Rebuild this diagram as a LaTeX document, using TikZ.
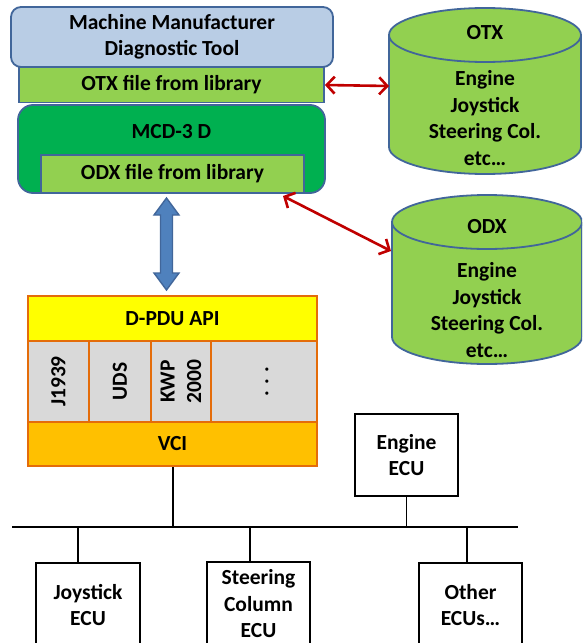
\documentclass[tikz,border=0pt]{standalone}
\usepackage{fontspec}
\setmainfont{Carlito}[BoldFont={Carlito Bold}]
\usetikzlibrary{arrows.meta}

\definecolor{toolblue}{HTML}{B9CDE5}
\definecolor{edgeblue}{HTML}{41669A}
\definecolor{libgreen}{HTML}{92D050}
\definecolor{mcdgreen}{HTML}{00B050}
\definecolor{pipeblue}{HTML}{4F81BD}
\definecolor{linkred}{HTML}{C00000}
\definecolor{pduorange}{HTML}{E46C0A}
\definecolor{pduyellow}{HTML}{FFFF00}
\definecolor{protogray}{HTML}{D9D9D9}
\definecolor{vciamber}{HTML}{FFC000}

\tikzset{
  txt/.style={font=\bfseries\fontsize{21.5}{26.5}\selectfont, align=center, inner sep=0pt},
  box/.style={txt, minimum width=#1, draw, inner sep=0pt},
  toolbox/.style={draw=edgeblue, line width=1.8pt, fill=toolblue, rounded corners=10pt},
  libbox/.style={draw=edgeblue, line width=1.8pt, fill=libgreen},
  mcdbox/.style={draw=edgeblue, line width=1.8pt, fill=mcdgreen, rounded corners=15pt},
  pducell/.style={draw=pduorange, line width=2pt},
  ecubox/.style={draw=black, line width=2pt, fill=white},
  buswire/.style={draw=black, line width=2pt},
  tapwire/.style={draw=black, line width=1.6pt},
  dbshape/.style={draw=edgeblue, line width=1.8pt, fill=libgreen},
  redlink/.style={draw=linkred, line width=2.6pt,
    {Straight Barb[length=8pt,width=17pt]}-{Straight Barb[length=8pt,width=17pt]}},
  pipe/.style={draw=edgeblue, line width=1.4pt, fill=pipeblue, line join=miter},
}

\begin{document}
\begin{tikzpicture}[x=1pt, y=-1pt]
\useasboundingbox (0,0) rectangle (582,643);
\clip (0,0) rectangle (582,643);

% ---- diagnostic tool stack ----
\node[box=322pt, toolbox, minimum height=60pt] (tool) at (172,37)
  {Machine Manufacturer\\Diagnostic Tool};
\node[box=305pt, libbox, minimum height=35pt] (otxfile) at (171.5,85)
  {OTX file from library};
\node[box=307pt, mcdbox, minimum height=88pt,
      label={[txt, anchor=center, yshift=-27pt]north:MCD-3 D}] (mcd) at (171.5,149) {};
\node[box=263pt, libbox, minimum height=38pt] (odxfile) at (172.5,174)
  {ODX file from library};

% ---- D-PDU API / protocols / VCI ----
\node[box=289pt, pducell, fill=pduyellow, minimum height=45pt] (dpdu) at (172.5,318.5) {D-PDU API};
\node[box=61pt, pducell, fill=protogray, minimum height=81pt] (j1939) at (58.5,381.5) {};
\node[box=62pt, pducell, fill=protogray, minimum height=81pt] (uds) at (120,381.5) {};
\node[box=60pt, pducell, fill=protogray, minimum height=81pt] (kwp) at (181,381.5) {};
\node[box=106pt, pducell, fill=protogray, minimum height=81pt] (more) at (264,381.5) {};
\node[txt, rotate=90] at (j1939) {J1939};
\node[txt, rotate=90] at (uds) {UDS};
\node[txt, rotate=90] at (kwp) {KWP\\2000};
\node[txt, rotate=90] at ([xshift=3pt]more.center) {.\hspace{6pt}.\hspace{6pt}.};
\node[box=289pt, pducell, fill=vciamber, minimum height=44pt] (vci) at (172.5,444) {VCI};

% ---- double arrow between MCD-3 D and D-PDU API ----
\coordinate (pipetop) at (166.5,198);
\coordinate (pipebot) at (166.5,290);
\path[pipe] (pipetop) -- ++(12.5,17) -- ++(-6.5,0) -- ++(0,58) -- ++(6.5,0)
  -- (pipebot) -- ++(-12.5,-17) -- ++(6.5,0) -- ++(0,-58) -- ++(-6.5,0) -- cycle;

% ---- OTX and ODX databases ----
\path[dbshape] (389,35) -- (389,147)
  arc[start angle=180, end angle=360, x radius=96pt, y radius=27pt]
  -- (581,35) arc[start angle=0, end angle=180, x radius=96pt, y radius=27pt] -- cycle;
\draw[dbshape, fill=none] (389,35)
  arc[start angle=180, end angle=360, x radius=96pt, y radius=27pt];
\node[txt] (otxname) at (485,33) {OTX};
\node[txt] (otxdb) at (485,118) {Engine\\Joystick\\Steering Col.\\etc…};

\path[dbshape] (392,222) -- (392,337)
  arc[start angle=180, end angle=360, x radius=95pt, y radius=27pt]
  -- (582,222) arc[start angle=0, end angle=180, x radius=95pt, y radius=27pt] -- cycle;
\draw[dbshape, fill=none] (392,222)
  arc[start angle=180, end angle=360, x radius=95pt, y radius=27pt];
\node[txt] (odxname) at (487,227) {ODX};
\node[txt] (odxdb) at (487,310) {Engine\\Joystick\\Steering Col.\\etc…};

% ---- links to the libraries ----
\coordinate (otxin) at (389,86);
\coordinate (odxout) at (283,196);
\coordinate (odxin) at (391,251);
\draw[redlink] (otxfile.east) -- (otxin);
\draw[redlink] (odxout) -- (odxin);

% ---- vehicle bus and ECUs ----
\coordinate (busL) at (12,527);
\coordinate (busR) at (518,527);
\node[box=103pt, ecubox, minimum height=82pt] (engine) at (406.5,455) {Engine\\ECU};
\node[box=104pt, ecubox, minimum height=84pt] (joystick) at (88,605) {Joystick\\ECU};
\node[box=103pt, ecubox, minimum height=84pt] (steering) at (258.5,604) {Steering\\Column\\ECU};
\node[box=103pt, ecubox, minimum height=84pt] (other) at (470.5,605) {Other\\ECUs…};

\draw[buswire] (busL) -- (busR);
\draw[buswire] (vci.south) -- (vci.south |- busL);
\draw[tapwire] (engine.south) -- (engine.south |- busL);
\draw[tapwire] ([xshift=-10pt]joystick.north) -- ([xshift=-10pt]joystick.north |- busL);
\draw[tapwire] ([xshift=-8.5pt]steering.north) -- ([xshift=-8.5pt]steering.north |- busL);
\draw[tapwire] ([xshift=-3.5pt]other.north) -- ([xshift=-3.5pt]other.north |- busL);
\end{tikzpicture}
\end{document}
